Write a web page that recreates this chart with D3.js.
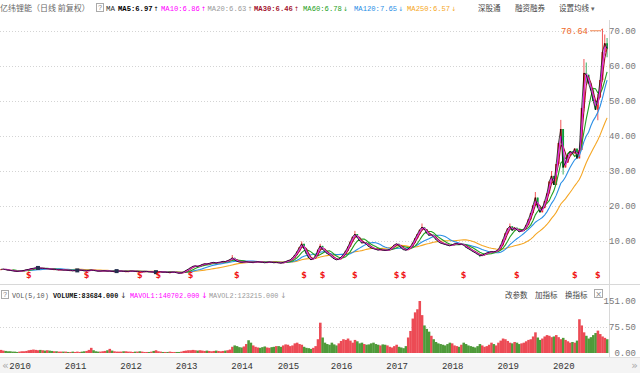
<!DOCTYPE html>
<html>
<head>
<meta charset="utf-8">
<script src="https://cdn.jsdelivr.net/npm/d3@7"></script>
<style>
  body { margin: 0; background: #fff; }
  svg { display: block; font-family: "Liberation Mono", "DejaVu Sans Mono", monospace; }
</style>
</head>
<body>
<div id="chart"></div>
<script>
// periods are half-months; first group is Nov-Dec 2009, then 2010 .. 2020
var yearLabels = ["2010", "2011", "2012", "2013", "2014", "2015", "2016", "2017", "2018", "2019", "2020"];
var periodsPerYear = [4, 24, 24, 24, 24, 20, 23, 24, 24, 24, 24, 24];

var firstOpen = 1.8;
var close = [
  // 2009
  1.9, 2.0, 1.8, 1.7,
  // 2010
  1.6, 1.5, 1.4, 1.3, 1.4, 1.5, 1.6, 1.8, 1.9, 2.1, 2.2, 2.3, 2.3, 2.2, 2.2, 2.1, 2.1, 2.0, 1.9, 1.9, 1.8, 1.8, 1.8, 1.7,
  // 2011
  1.7, 1.6, 1.6, 1.5, 1.6, 1.6, 1.7, 1.6, 1.5, 1.5, 1.6, 1.7, 1.6, 1.5, 1.4, 1.4, 1.5, 1.5, 1.4, 1.4, 1.3, 1.3, 1.4, 1.4,
  // 2012
  1.4, 1.3, 1.3, 1.3, 1.4, 1.4, 1.3, 1.3, 1.2, 1.2, 1.3, 1.3, 1.2, 1.2, 1.1, 1.1, 1.2, 1.2, 1.1, 1.1, 1.0, 1.0, 1.1, 1.1,
  // 2013
  0.9, 0.8, 0.9, 1.2, 1.6, 2.0, 2.4, 2.8, 2.9, 2.7, 3.0, 3.3, 3.5, 3.4, 3.6, 3.8, 3.9, 3.7, 3.9, 4.0, 4.2, 4.1, 4.4, 4.7,
  // 2014
  5.2, 4.6, 4.2, 4.0, 3.9, 4.0, 4.1, 4.0, 3.9, 3.9, 4.0, 4.1, 4.0, 3.9, 3.8, 3.9, 4.0, 3.9, 3.8, 3.9,
  // 2015
  3.8, 3.7, 3.9, 4.1, 4.4, 4.6, 5.2, 6.0, 7.0, 8.2, 9.2, 7.8, 6.4, 5.2, 4.6, 5.0, 5.8, 7.5, 8.6, 7.6, 7.0, 6.4, 6.0,
  // 2016
  5.4, 4.9, 4.6, 4.8, 5.4, 6.2, 7.2, 8.4, 9.8, 11.2, 12.0, 11.0, 10.0, 9.4, 9.6, 9.0, 8.4, 8.0, 7.8, 7.6, 7.4, 7.6, 7.4, 7.3,
  // 2017
  7.4, 7.6, 8.2, 8.9, 9.2, 8.8, 8.0, 7.5, 7.4, 7.7, 8.4, 9.5, 10.8, 12.0, 13.2, 14.0, 13.4, 12.2, 11.6, 11.8, 11.2, 10.4, 9.8, 9.4,
  // 2018
  9.2, 9.0, 8.8, 8.6, 8.9, 9.2, 9.3, 9.0, 9.1, 8.8, 8.2, 7.8, 7.4, 7.0, 6.6, 6.2, 5.8, 5.9, 6.3, 6.6, 6.8, 7.0, 6.9, 7.1,
  // 2019
  7.6, 8.8, 10.4, 12.2, 13.6, 14.2, 13.0, 13.8, 13.2, 12.6, 12.9, 13.4, 14.6, 16.2, 18.0, 20.2, 22.4, 19.6, 18.2, 19.4, 21.4, 23.6, 27.0, 28.6,
  // 2020
  26.0, 32.0, 38.0, 42.0, 31.0, 32.4, 34.6, 35.6, 35.0, 36.4, 33.6, 36.0, 48.0, 58.0, 57.5, 55.0, 53.0, 50.0, 47.5, 51.0, 56.0, 64.0, 66.5, 65.0
];

// [period index, high, low] for candles with visible shadows
var extremes = [
  [100, 6.0, 4.4], [130, 9.9, 8.0], [138, 9.2, 7.4], [153, 12.9, 10.8], [182, 15.0, 13.0],
  [207, 6.2, 5.4], [220, 15.0, 13.4], [231, 24.0, 20.0], [238, 30.0, 26.5], [242, 44.6, 37.5],
  [243, 42.0, 29.0], [252, 62.0, 47.0], [253, 61.0, 55.0], [258, 52.0, 44.5], [260, 70.64, 55.5],
  [261, 69.0, 63.0], [262, 68.0, 62.5]
];

var volume = [
  // 2009
  9, 7, 6, 5,
  // 2010
  5, 4, 4, 3, 4, 5, 5, 6, 8, 9, 10, 9, 8, 9, 8, 7, 8, 7, 6, 5, 5, 4, 4, 4,
  // 2011
  4, 3, 3, 4, 3, 4, 3, 4, 5, 6, 9, 15, 8, 5, 4, 4, 5, 6, 8, 12, 7, 5, 4, 4,
  // 2012
  4, 5, 5, 4, 4, 3, 4, 4, 5, 4, 3, 3, 3, 4, 6, 8, 5, 4, 3, 3, 3, 4, 3, 3,
  // 2013
  3, 3, 4, 6, 7, 8, 8, 9, 8, 7, 8, 7, 6, 7, 6, 5, 6, 7, 6, 5, 6, 7, 8, 10,
  // 2014
  18, 22, 20, 17, 16, 19, 26, 37, 30, 22, 18, 16, 15, 17, 19, 16, 15, 17, 18, 20,
  // 2015
  20, 18, 22, 25, 24, 20, 22, 28, 30, 26, 24, 18, 15, 14, 12, 15, 20, 40, 88, 45, 30, 26, 24,
  // 2016
  30, 25, 22, 28, 35, 40, 38, 42, 36, 30, 38, 34, 28, 30, 26, 24, 25, 28, 30, 26, 24, 22, 25, 24,
  // 2017
  22, 18, 16, 20, 24, 18, 16, 14, 20, 45, 64, 100, 118, 127, 151, 110, 80, 70, 62, 50, 40, 32, 28, 26,
  // 2018
  24, 22, 26, 30, 28, 22, 20, 18, 24, 30, 26, 22, 20, 18, 16, 20, 26, 22, 18, 20, 24, 30, 26, 22,
  // 2019
  30, 36, 42, 40, 35, 30, 28, 32, 30, 26, 28, 30, 34, 38, 40, 48, 60, 45, 38, 42, 48, 52, 50, 46,
  // 2020
  48, 52, 46, 40, 44, 38, 34, 30, 32, 30, 36, 98, 80, 60, 50, 42, 46, 52, 58, 65, 55, 48, 44, 40
];

var dividendIdx = [12, 37, 60, 68, 82, 102, 131, 139, 153, 171, 174, 200, 223, 248, 258];
var noteIdx = [16, 33, 50, 67];

var maNames = ["MA5", "MA10", "MA20", "MA30", "MA60", "MA120", "MA250"];
var maValues = ["6.97", "6.86", "6.63", "6.46", "6.78", "7.65", "6.57"];
var maRising = [true, true, true, true, false, false, false];
var maWindow = [1, 2, 2, 3, 6, 12, 24];   // in half-month periods
var maColors = ["#000000", "#ff00ff", "#9a9a9a", "#a3122e", "#22a022", "#2a8fe6", "#f5a623"];

var volTicks = [0, 75.5, 151];
var volHeader = ["VOLUME:83684.000", "MAVOL1:140702.000", "MAVOL2:123215.000"];

var width = 640, height = 373;
var plotRight = 609;

var svg = d3.select("#chart").append("svg")
    .attr("width", width)
    .attr("height", height);

var N = close.length;
var open = close.map((c, i) => i ? close[i - 1] : firstOpen);
var extraMap = new Map(extremes.map(d => [d[0], d]));
var high = close.map((c, i) => extraMap.has(i) ? extraMap.get(i)[1] : Math.max(c, open[i]));
var low = close.map((c, i) => extraMap.has(i) ? extraMap.get(i)[2] : Math.min(c, open[i]));
var up = close.map((c, i) => c >= open[i]);

var x = d3.scaleBand(d3.range(N), [0, 608]).paddingInner(0.2);
var cx = i => x(i) + x.bandwidth() / 2;
var y = d3.scaleLinear([0, 70], [276, 31]);
var v = d3.scaleLinear([0, 151], [353, 301]);

var upColor = "#ee2b2b", downColor = "#0b9a3c";

// backgrounds and borders
svg.append("rect").attr("x", 0).attr("y", 357).attr("width", width).attr("height", 16).attr("fill", "#f4f4f4");
svg.append("line").attr("x1", 0).attr("x2", width).attr("y1", 284.5).attr("y2", 284.5).attr("stroke", "#d8d8d8");
svg.append("line").attr("x1", 0).attr("x2", width).attr("y1", 357.5).attr("y2", 357.5).attr("stroke", "#e2e2e2");
svg.append("line").attr("x1", plotRight + 0.5).attr("x2", plotRight + 0.5).attr("y1", 20).attr("y2", 357)
    .attr("stroke", "#d8d8d8");

// price grid + axis
var priceTicks = y.ticks(7).filter(t => t > 0);
svg.append("g").selectAll("line").data(priceTicks).join("line")
    .attr("x1", 0).attr("x2", plotRight)
    .attr("y1", d => Math.round(y(d)) + 0.5).attr("y2", d => Math.round(y(d)) + 0.5)
    .attr("stroke", "#d4d4d4").attr("stroke-dasharray", "1,2");
svg.append("g").selectAll("text").data(priceTicks).join("text")
    .attr("x", 636).attr("y", d => y(d) + 3)
    .attr("text-anchor", "end")
    .attr("font-size", 9).attr("fill", "#777")
    .text(d3.format(".2f"));

// volume grid + axis
svg.append("g").selectAll("line").data(volTicks.filter(t => t > 0 && t < 151)).join("line")
    .attr("x1", 0).attr("x2", plotRight)
    .attr("y1", d => Math.round(v(d)) + 0.5).attr("y2", d => Math.round(v(d)) + 0.5)
    .attr("stroke", "#d4d4d4").attr("stroke-dasharray", "1,2");
svg.append("g").selectAll("text").data(volTicks).join("text")
    .attr("x", 636).attr("y", d => v(d) + 3)
    .attr("text-anchor", "end")
    .attr("font-size", 9).attr("fill", "#777")
    .text(d3.format(".2f"));

// candles
var candles = svg.append("g");
candles.selectAll("line").data(d3.range(N)).join("line")
    .attr("x1", i => cx(i)).attr("x2", i => cx(i))
    .attr("y1", i => y(high[i])).attr("y2", i => y(low[i]))
    .attr("stroke", i => up[i] ? upColor : downColor)
    .attr("stroke-width", 0.8);
candles.selectAll("rect").data(d3.range(N)).join("rect")
    .attr("x", i => x(i))
    .attr("width", x.bandwidth())
    .attr("y", i => y(Math.max(open[i], close[i])))
    .attr("height", i => Math.max(0.8, Math.abs(y(open[i]) - y(close[i]))))
    .attr("fill", i => up[i] ? upColor : downColor);

// moving averages
function movingAverage(w) {
  return close.map((c, i) => i < w - 1 ? null : d3.mean(close.slice(i - w + 1, i + 1)));
}
var line = d3.line()
    .defined(d => d != null)
    .x((d, i) => cx(i))
    .y(d => y(d));
var maOrder = d3.range(maNames.length).reverse();
svg.append("g").selectAll("path").data(maOrder).join("path")
    .attr("d", k => line(movingAverage(maWindow[k])))
    .attr("fill", "none")
    .attr("stroke", k => maColors[k])
    .attr("stroke-width", k => k < 2 ? 0.9 : 1.1)
    .attr("stroke-opacity", k => k === 0 ? 0.8 : 1);

// info squares on early candles
svg.append("g").selectAll("rect").data(noteIdx).join("rect")
    .attr("x", i => cx(i) - 2).attr("y", i => y(close[i]) - 2)
    .attr("width", 4).attr("height", 4)
    .attr("fill", "#24304f");

// dividend markers
svg.append("g").selectAll("text").data(dividendIdx).join("text")
    .attr("x", i => cx(i)).attr("y", 278)
    .attr("text-anchor", "middle")
    .attr("font-family", "DejaVu Sans, sans-serif")
    .attr("font-weight", "bold")
    .attr("font-size", 8).attr("fill", "#f01818")
    .text("$");

// max annotation
var iMax = d3.maxIndex(high);
svg.append("path")
    .attr("d", `M590,${y(high[iMax]) + 2}L${cx(iMax) - 2},${y(high[iMax]) + 2}L${cx(iMax)},${y(high[iMax])}`)
    .attr("fill", "none").attr("stroke", "#ef6a2a").attr("stroke-width", 0.8);
svg.append("text")
    .attr("x", 588).attr("y", y(high[iMax]) + 5)
    .attr("text-anchor", "end")
    .attr("font-size", 9).attr("fill", "#ef6a2a")
    .text(high[iMax].toFixed(2));

// volume bars
svg.append("g").selectAll("rect").data(d3.range(N)).join("rect")
    .attr("x", i => x(i) - 0.25)
    .attr("width", x.step() + 0.25)
    .attr("y", i => v(volume[i]))
    .attr("height", i => v(0) - v(volume[i]))
    .attr("fill", i => up[i] ? "#ec4b55" : "#4f9a3a");

// x axis years
var yearStart = d3.cumsum(periodsPerYear);
svg.append("g").selectAll("text").data(yearLabels).join("text")
    .attr("x", (d, k) => x(yearStart[k]))
    .attr("y", 369)
    .attr("font-size", 9).attr("fill", "#333")
    .text(d => d);
svg.append("text").attr("x", 2).attr("y", 369).attr("font-size", 11).attr("fill", "#aaa")
    .attr("font-family", "DejaVu Sans, sans-serif").text("«");
svg.append("text").attr("x", 638).attr("y", 369).attr("text-anchor", "end").attr("font-size", 11)
    .attr("fill", "#aaa").attr("font-family", "DejaVu Sans, sans-serif").text("»");

// header text
function txt(px, py, s, color, size, opts) {
  var t = svg.append("text").attr("x", px).attr("y", py).attr("fill", color)
      .attr("font-size", size).text(s);
  if (opts && opts.cn) t.attr("font-family", "Noto Sans CJK SC, sans-serif");
  if (opts && opts.sans) t.attr("font-family", "DejaVu Sans, sans-serif");
  if (opts && opts.bold) t.attr("font-weight", "bold");
  return t;
}
function helpBox(px, py) {
  svg.append("rect").attr("x", px + 0.5).attr("y", py + 0.5).attr("width", 7).attr("height", 8)
      .attr("fill", "#fff").attr("stroke", "#aaa");
  txt(px + 4, py + 7, "?", "#888", 7).attr("text-anchor", "middle");
}

txt(0, 11, "亿纬锂能（日线 前复权）", "#666", 8, { cn: true });
helpBox(96, 3);
txt(106, 11, "MA", "#333", 7.5);
var headX = [118, 161, 207.5, 254, 303, 354, 407];
var monoW = 0.6;
maNames.forEach(function(name, k) {
  var s = name + ":" + maValues[k];
  txt(headX[k], 11, s, maColors[k], 7.2, { bold: k === 0 || k === 3 });
  txt(headX[k] + s.length * 7.2 * monoW + 1, 11, maRising[k] ? "↑" : "↓", maColors[k], 6, { sans: true });
});
txt(478, 11, "深股通", "#444", 7.5, { cn: true });
txt(515, 11, "融资融券", "#444", 7.5, { cn: true });
txt(559, 11, "设置均线", "#444", 7.5, { cn: true });
txt(591, 11, "▾", "#666", 7, { sans: true });

// volume header
helpBox(1, 290);
txt(12, 298, "VOL(5,10)", "#555", 6.8);
var volX = [53, 130, 209];
var volColors = ["#111", "#ff00ff", "#999"];
volHeader.forEach(function(s, k) {
  txt(volX[k], 298, s, volColors[k], 6.8, { bold: k === 0 });
  txt(volX[k] + s.length * 6.8 * monoW + 2, 298, "↓", k === 0 ? "#333" : volColors[k], 7.5, { sans: true });
});
txt(505, 298, "改参数", "#444", 7.5, { cn: true });
txt(535, 298, "加指标", "#444", 7.5, { cn: true });
txt(565, 298, "换指标", "#444", 7.5, { cn: true });
svg.append("rect").attr("x", 594.5).attr("y", 289.5).attr("width", 8).attr("height", 8)
    .attr("fill", "#fff").attr("stroke", "#aaa");
txt(598.5, 296.5, "×", "#888", 8, { sans: true }).attr("text-anchor", "middle");
</script>
</body>
</html>
